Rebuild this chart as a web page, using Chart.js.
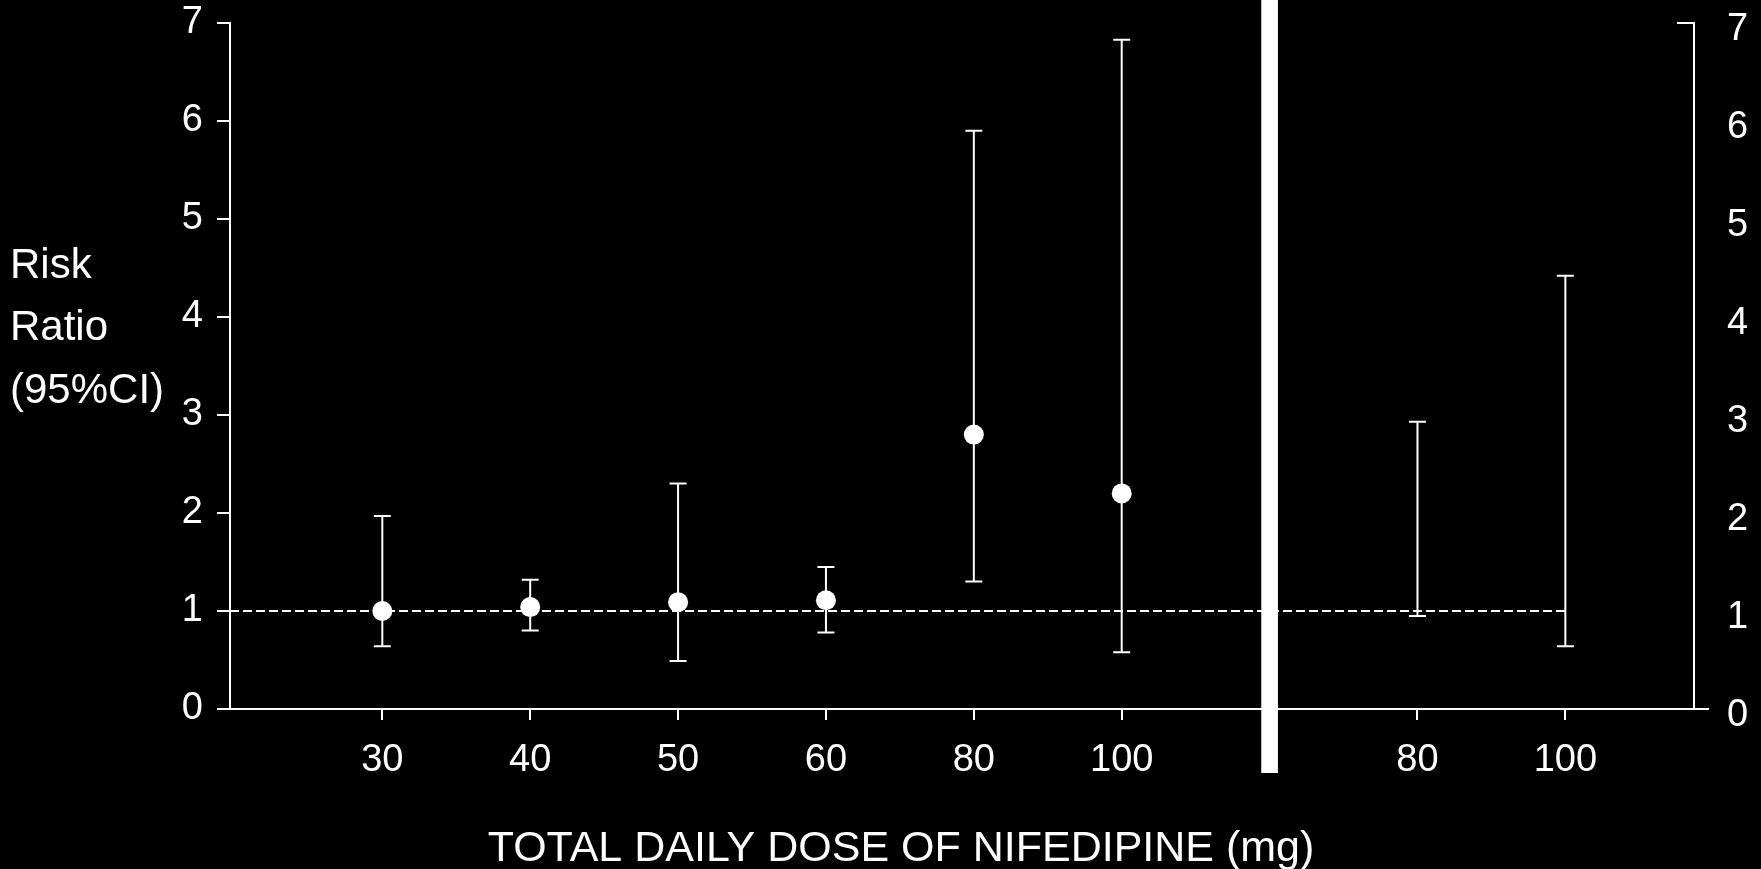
<!DOCTYPE html>
<html>
<head>
<meta charset="utf-8">
<script src="https://cdn.jsdelivr.net/npm/chart.js@4"></script>
<style>
  html, body { margin: 0; padding: 0; background: #000; }
  #wrap { position: relative; width: 1761px; height: 869px; background: #000; }
</style>
</head>
<body>
<div id="wrap"><canvas id="chart"></canvas></div>
<script>
// Left panel: nifedipine daily dose groups with point estimate and 95% CI
const leftDoses = ['30', '40', '50', '60', '80', '100'];
const leftRR    = [1.00, 1.04, 1.09, 1.11, 2.80, 2.20];
const leftLow   = [0.64, 0.80, 0.49, 0.78, 1.30, 0.58];
const leftHigh  = [1.97, 1.32, 2.30, 1.45, 5.90, 6.83];

// Right panel: 95% CI only
const rightDoses = ['80', '100'];
const rightLow   = [0.95, 0.64];
const rightHigh  = [2.93, 4.42];

// Risk-ratio axis and reference level
const yTicks = [0, 1, 2, 3, 4, 5, 6, 7];
const referenceRR = 1;
// vertical separator between the two panels (in risk-ratio units)
const dividerSpan = [-0.65, 7.3];

// slot positions along the x axis
const leftX = leftDoses.map((_, i) => i);
const dividerX = leftDoses.length;
const rightX = rightDoses.map((_, j) => leftDoses.length + 1 + j);
const xMin = -1.03, xMax = 8.87;

const tickLabelAt = {};
leftX.forEach((v, i) => { tickLabelAt[v] = leftDoses[i]; });
rightX.forEach((v, j) => { tickLabelAt[v] = rightDoses[j]; });

const xTitle = 'TOTAL DAILY DOSE OF NIFEDIPINE (mg)';
const yTitleLines = ['Risk', 'Ratio', '(95%CI)'];

const FONT = '"Liberation Sans", Arial, Helvetica, sans-serif';
const WHITE = '#ffffff';

// whiskers with caps, drawn under the points
const errorBars = {
  id: 'errorBars',
  beforeDatasetsDraw(chart) {
    const { ctx, scales: { x, y } } = chart;
    const cap = 8.5;
    ctx.save();
    ctx.strokeStyle = WHITE;
    ctx.lineWidth = 2;
    const whisker = (xv, lo, hi) => {
      const px = x.getPixelForValue(xv);
      const pl = y.getPixelForValue(lo);
      const ph = y.getPixelForValue(hi);
      ctx.beginPath();
      ctx.moveTo(px, pl); ctx.lineTo(px, ph);
      ctx.moveTo(px - cap, ph); ctx.lineTo(px + cap, ph);
      ctx.moveTo(px - cap, pl); ctx.lineTo(px + cap, pl);
      ctx.stroke();
    };
    leftX.forEach((xv, i) => whisker(xv, leftLow[i], leftHigh[i]));
    rightX.forEach((xv, j) => whisker(xv, rightLow[j], rightHigh[j]));
    ctx.restore();
  }
};

// axis titles and the inward top tick of the right axis
const decorations = {
  id: 'decorations',
  afterDraw(chart) {
    const { ctx, scales: { y2 } } = chart;
    ctx.save();
    ctx.strokeStyle = WHITE;
    ctx.lineWidth = 2;
    const py = y2.getPixelForValue(7);
    ctx.beginPath();
    ctx.moveTo(y2.left - 17, py);
    ctx.lineTo(y2.left, py);
    ctx.stroke();

    ctx.fillStyle = WHITE;
    ctx.textBaseline = 'middle';

    ctx.font = '42px ' + FONT;
    ctx.textAlign = 'left';
    yTitleLines.forEach((t, k) => {
      ctx.fillText(t, 10, 266 + k * 62.5);
    });

    ctx.font = '43px ' + FONT;
    ctx.textAlign = 'center';
    ctx.fillText(xTitle, 901, 849);
    ctx.restore();
  }
};

const noEdgePadding = scale => {
  scale.paddingTop = 0;
  scale.paddingBottom = 0;
  scale.paddingLeft = 0;
  scale.paddingRight = 0;
};

new Chart(document.getElementById('chart'), {
  type: 'line',
  data: {
    datasets: [
      {
        type: 'bar',
        label: 'divider',
        data: [{ x: dividerX, y: dividerSpan }],
        backgroundColor: WHITE,
        borderWidth: 0,
        barThickness: 16,
        clip: false,
        order: 0
      },
      {
        label: 'Risk ratio',
        data: leftX.map((xv, i) => ({ x: xv, y: leftRR[i] })),
        showLine: false,
        pointRadius: 10,
        pointHoverRadius: 10,
        pointBackgroundColor: WHITE,
        pointBorderWidth: 0,
        order: 1
      },
      {
        label: 'reference',
        data: [{ x: xMin, y: referenceRR }, { x: rightX[rightX.length - 1], y: referenceRR }],
        borderColor: WHITE,
        borderWidth: 2,
        borderDash: [9, 4],
        pointRadius: 0,
        fill: false,
        order: 2
      }
    ]
  },
  options: {
    responsive: true,
    maintainAspectRatio: false,
    animation: false,
    events: [],
    layout: { padding: { top: 23, left: 0, right: 0, bottom: 0 } },
    plugins: {
      legend: { display: false },
      tooltip: { enabled: false }
    },
    scales: {
      x: {
        type: 'linear',
        min: xMin,
        max: xMax,
        offset: false,
        afterBuildTicks(scale) {
          scale.ticks = Object.keys(tickLabelAt).map(v => ({ value: Number(v) }));
        },
        afterFit(scale) { scale.height = 160; noEdgePadding(scale); },
        ticks: {
          color: WHITE,
          font: { family: FONT, size: 38 },
          padding: 18,
          maxRotation: 0,
          autoSkip: false,
          callback: v => tickLabelAt[v] ?? ''
        },
        grid: { offset: false, drawOnChartArea: false, color: WHITE, lineWidth: 2, tickLength: 11 },
        border: { color: WHITE, width: 2 },
        title: { display: false }
      },
      y: {
        position: 'left',
        min: yTicks[0],
        max: yTicks[yTicks.length - 1],
        afterBuildTicks(scale) { scale.ticks = yTicks.map(v => ({ value: v })); },
        afterFit(scale) { scale.width = 230; noEdgePadding(scale); },
        ticks: { color: WHITE, font: { family: FONT, size: 38 }, padding: 14 },
        grid: { drawOnChartArea: false, color: WHITE, lineWidth: 2, tickLength: 13 },
        border: { color: WHITE, width: 2 }
      },
      y2: {
        position: 'right',
        min: yTicks[0],
        max: yTicks[yTicks.length - 1],
        afterBuildTicks(scale) { scale.ticks = yTicks.map(v => ({ value: v })); },
        afterFit(scale) { scale.width = 67; noEdgePadding(scale); },
        ticks: { color: WHITE, font: { family: FONT, size: 38 }, padding: 18, labelOffset: 7 },
        grid: {
          drawOnChartArea: false,
          lineWidth: 2,
          tickLength: 15,
          color: ctx => (ctx.tick && ctx.tick.value === 0 ? WHITE : 'rgba(0,0,0,0)')
        },
        border: { color: WHITE, width: 2 }
      }
    }
  },
  plugins: [errorBars, decorations]
});
</script>
</body>
</html>
